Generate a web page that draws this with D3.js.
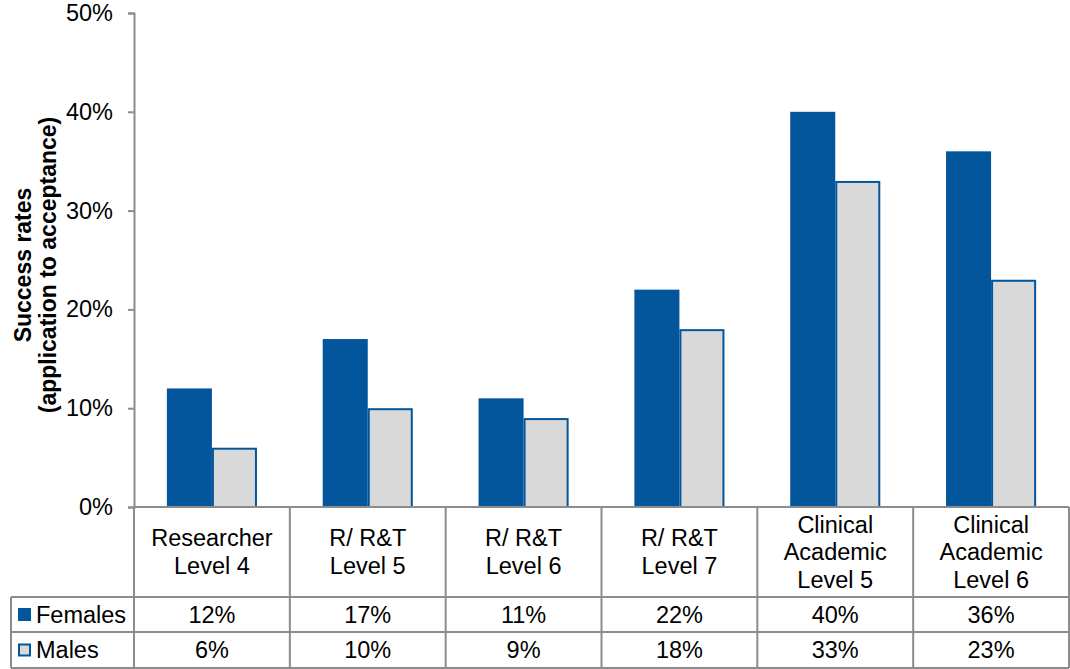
<!DOCTYPE html>
<html><head><meta charset="utf-8">
<script src="https://cdn.jsdelivr.net/npm/d3@7"></script>
<style>body{margin:0;background:#fff;} svg{display:block;font-family:"Liberation Sans",Arial,sans-serif;}</style>
</head><body><svg id="c" width="1070" height="669"></svg>
<script>
const categories = [["Researcher","Level 4"],["R/ R&T","Level 5"],["R/ R&T","Level 6"],["R/ R&T","Level 7"],["Clinical","Academic","Level 5"],["Clinical","Academic","Level 6"]];
const females = [12,17,11,22,40,36];
const males = [6,10,9,18,33,23];
const yTicks = [0,10,20,30,40,50];
const seriesNames = ["Females","Males"];

(function(){
const svg = d3.select("#c");
const mLeft = 134, mRight = 1069, mTop = 13, mBottom = 507;
const tableLeft = 11, row1 = 597, row2 = 632, row3 = 668;
const gray = "#8c8c8c";
const blue = "#03569b", light = "#d9d9d9";
const fs = 23.5;

const x = d3.scaleBand().domain(d3.range(categories.length)).range([mLeft, mRight]).paddingInner(0).paddingOuter(0);
const xs = d3.scaleBand().domain([0,1]).range([0, x.bandwidth()]).paddingInner(0).paddingOuter(0.73);
const y = d3.scaleLinear().domain([0,50]).range([mBottom, mTop]);

// y axis
const ya = svg.append("g").attr("transform",`translate(${mLeft},0)`)
  .call(d3.axisLeft(y).tickValues(yTicks).tickSize(6).tickPadding(15).tickFormat(d=>d+"%"));
ya.select(".domain").attr("stroke",gray).attr("stroke-width",2);
ya.selectAll(".tick line").attr("stroke",gray).attr("stroke-width",2);
ya.selectAll(".tick text").attr("font-size",fs).attr("fill","#000").attr("font-family","Liberation Sans, Arial, sans-serif");

// bars
const g = svg.append("g");
g.selectAll("rect.f").data(females).join("rect").attr("class","f")
  .attr("x",(d,i)=>x(i)+xs(0)).attr("width",xs.bandwidth())
  .attr("y",d=>y(d)).attr("height",d=>y(0)-y(d)).attr("fill",blue);
g.selectAll("rect.m").data(males).join("rect").attr("class","m")
  .attr("x",(d,i)=>x(i)+xs(1)+1).attr("width",xs.bandwidth()-2)
  .attr("y",d=>y(d)+1).attr("height",d=>y(0)-y(d)-1).attr("fill",light)
  .attr("stroke",blue).attr("stroke-width",2);

// table lines
const lines = svg.append("g").attr("stroke",gray).attr("stroke-width",2);
lines.append("line").attr("x1",mLeft).attr("x2",mRight).attr("y1",mBottom).attr("y2",mBottom);
[row1,row2,row3].forEach(yy=>lines.append("line").attr("x1",tableLeft).attr("x2",mRight).attr("y1",yy).attr("y2",yy));
lines.append("line").attr("x1",tableLeft).attr("x2",tableLeft).attr("y1",row1).attr("y2",row3);
d3.range(categories.length+1).forEach(i=>{
  const xx = i<categories.length ? x(i) : mRight;
  lines.append("line").attr("x1",xx).attr("x2",xx).attr("y1",mBottom).attr("y2",row3);
});

// category labels
categories.forEach((lab,i)=>{
  const cx = x(i)+x.bandwidth()/2;
  const lh = 27.5;
  const midY = (mBottom+row1)/2;
  const start = midY - (lab.length-1)*lh/2;
  const t = svg.append("text").attr("text-anchor","middle").attr("font-size",fs).attr("fill","#000");
  lab.forEach((s,k)=>t.append("tspan").attr("x",cx).attr("y",start+k*lh).attr("dy","0.35em").text(s));
});

// data rows
[females,males].forEach((arr,r)=>{
  const yc = r===0 ? (row1+row2)/2 : (row2+row3)/2;
  arr.forEach((v,i)=>svg.append("text").attr("x",x(i)+x.bandwidth()/2).attr("y",yc).attr("dy","0.35em")
    .attr("text-anchor","middle").attr("font-size",fs).attr("fill","#000").text(v+"%"));
  if(r===0) svg.append("rect").attr("x",18).attr("y",yc-6.5).attr("width",13).attr("height",13).attr("fill",blue);
  else svg.append("rect").attr("x",19).attr("y",yc-5.5).attr("width",11).attr("height",11).attr("fill",light).attr("stroke",blue).attr("stroke-width",2);
  svg.append("text").attr("x",36).attr("y",yc).attr("dy","0.35em").attr("font-size",fs).attr("fill","#000").text(seriesNames[r]);
});

// y axis title
const yt = svg.append("text").attr("transform","translate(0,265) rotate(-90)")
  .attr("text-anchor","middle").attr("font-size",23).attr("font-weight","bold").attr("fill","#000");
yt.append("tspan").attr("x",0).attr("y",31).text("Success rates");
yt.append("tspan").attr("x",0).attr("y",56).text("(application to acceptance)");
})();
</script></body></html>
